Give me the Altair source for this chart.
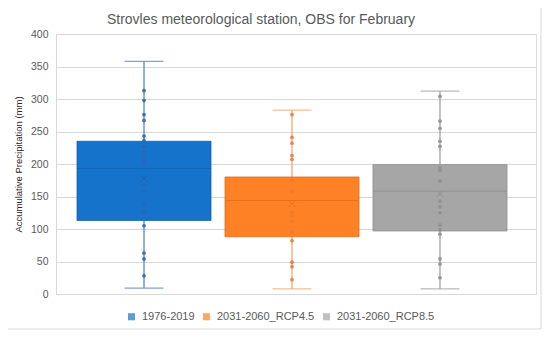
import altair as alt
import pandas as pd

series = ["1976-2019", "2031-2060_RCP4.5", "2031-2060_RCP8.5"]
box_colors = ["#1673CC", "#FF8125", "#A6A6A6"]
edge_colors = ["#1560AD", "#E06A15", "#8C8C8C"]
whisker_colors = ["#4A7CC0", "#F2A06A", "#9A9A9A"]
point_colors = ["#2C66B0", "#EE7A30", "#8F8F8F"]
y_ticks = [0, 50, 100, 150, 200, 250, 300, 350, 400]

mins = [9, 8, 8]
q1s = [113, 88, 97]
medians = [193, 144, 158]
q3s = [235, 180, 199]
maxs = [358, 283, 312]
means = [178, 139, 154]

pts_1976 = [313, 298, 276, 267, 243, 236, 227, 219, 212, 202, 168, 158, 140, 126, 105, 63, 54, 28]
pts_rcp45 = [276, 241, 232, 213, 207, 175, 158, 126, 120, 112, 95, 82, 49, 42, 22]
pts_rcp85 = [304, 266, 255, 235, 227, 194, 190, 174, 143, 134, 125, 106, 99, 92, 54, 46, 25]

stats = pd.DataFrame({
    "series": series, "min": mins, "q1": q1s, "median": medians,
    "q3": q3s, "max": maxs, "mean": means,
    "edge": edge_colors, "whisk": whisker_colors, "pcol": point_colors,
})

rows = []
for s, vals, c in zip(series, [pts_1976, pts_rcp45, pts_rcp85], point_colors):
    for v in vals:
        rows.append({"series": s, "value": v, "pcol": c})
points = pd.DataFrame(rows)

x_enc = alt.X(
    "series:N", sort=series,
    scale=alt.Scale(paddingInner=0.0946, paddingOuter=0.169, align=0.42),
    axis=alt.Axis(labels=False, ticks=False, title=None, domain=True,
                  domainColor="#D9D9D9", grid=False),
)
y_scale = alt.Scale(domain=[0, 400], nice=False)
y_axis = alt.Axis(
    values=y_ticks, labelOverlap=False,
    title="Accumulative Precipitation (mm)",
    titleFont="Liberation Sans", titleFontSize=9.5, titleFontWeight="normal",
    titleColor="#262626", titleX=-38, titleY=130, titleAngle=-90,
    titleAlign="center", titleBaseline="middle",
    labelFont="Liberation Sans", labelFontSize=10.5, labelColor="#595959",
    labelPadding=8, ticks=False, domain=True, domainColor="#D9D9D9",
    grid=True, gridColor="#D9D9D9", gridWidth=1,
)


def Y(field):
    return alt.Y(field, scale=y_scale, axis=y_axis)


base = alt.Chart(stats)

border = alt.Chart(pd.DataFrame({"a": [0]})).mark_rect(
    filled=False, fillOpacity=0, stroke="#D9D9D9", strokeWidth=1
).encode(
    x=alt.value(-50), x2=alt.value(485), y=alt.value(-29), y2=alt.value(295)
)

whisker = base.mark_rule(strokeWidth=1.2).encode(
    x=x_enc, y=Y("min:Q"), y2="max:Q",
    color=alt.Color("whisk:N", scale=None),
)

caps_lo = base.mark_tick(size=39, thickness=1.2, orient="horizontal").encode(
    x=x_enc, y=Y("min:Q"), color=alt.Color("whisk:N", scale=None)
)
caps_hi = base.mark_tick(size=39, thickness=1.2, orient="horizontal").encode(
    x=x_enc, y=Y("max:Q"), color=alt.Color("whisk:N", scale=None)
)

box = base.mark_bar(strokeWidth=0.8).encode(
    x=x_enc,
    y=Y("q1:Q"),
    y2="q3:Q",
    color=alt.Color("series:N", sort=series,
                    scale=alt.Scale(domain=series, range=box_colors),
                    legend=alt.Legend(
                        title=None, orient="none", direction="horizontal",
                        legendX=70, legendY=277, symbolType="square",
                        symbolSize=50, symbolStrokeWidth=0,
                        labelFont="Liberation Sans", labelFontSize=11,
                        labelColor="#595959", columnPadding=6, labelOffset=5,
                    )),
    stroke=alt.Stroke("edge:N", scale=None),
)

median = base.mark_tick(size=134, thickness=1, orient="horizontal").encode(
    x=x_enc, y=Y("median:Q"), color=alt.Color("edge:N", scale=None)
)

pts = alt.Chart(points).mark_point(filled=True, shape="circle", size=14, opacity=0.9).encode(
    x=x_enc, y=Y("value:Q"), color=alt.Color("pcol:N", scale=None)
)

mean_x = base.mark_point(shape="M-1,-1L1,1M-1,1L1,-1", size=45, filled=False,
                         strokeWidth=1).encode(
    x=x_enc, y=Y("mean:Q"), color=alt.Color("edge:N", scale=None)
)

chart = alt.layer(border, whisker, caps_lo, caps_hi, box, median, pts, mean_x).properties(
    width=480, height=260,
    autosize=alt.AutoSizeParams(type="none"),
    padding={"left": 48, "top": 26, "right": 6, "bottom": 37},
    title=alt.TitleParams(
        "Strovles meteorological station, OBS for February",
        font="Liberation Sans", fontSize=14, fontWeight="normal",
        color="#595959", anchor="middle", frame="group", dx=-35, dy=31, offset=9,
    ),
).configure_view(stroke=None).configure(background="white")

chart.save("out.html", embed_options={"renderer": "svg", "actions": False})
